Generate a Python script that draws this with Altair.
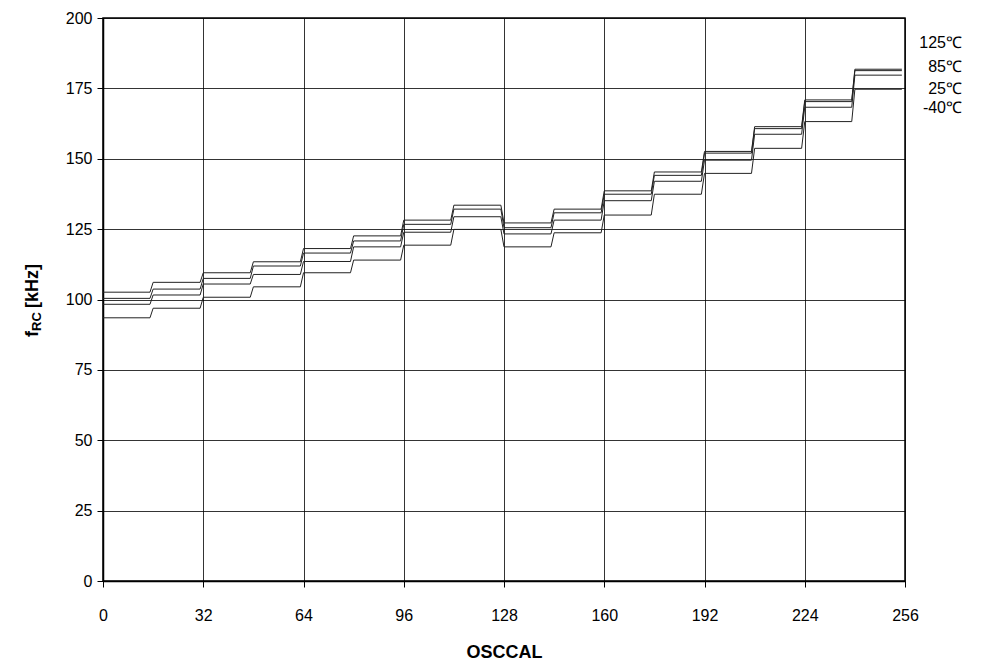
import altair as alt
import pandas as pd

# OSCCAL step starts (each step spans 16 codes)
step_start = [0, 16, 32, 48, 64, 80, 96, 112, 128, 144, 160, 176, 192, 208, 224, 240]
step_len = 15

series_names = ["125℃", "85℃", "25℃", "-40℃"]
t125 = [102.6, 106.1, 109.5, 113.4, 118.1, 122.6, 128.2, 133.5, 127.2, 132.1, 138.6, 145.3, 152.6, 161.4, 170.9, 181.8]
t85 = [100.4, 103.7, 107.5, 111.9, 116.5, 120.8, 126.7, 132.1, 125.5, 130.8, 137.4, 144.1, 152.0, 160.7, 170.3, 181.3]
t25 = [98.3, 101.6, 105.5, 108.9, 113.5, 118.7, 123.9, 129.4, 123.3, 128.2, 135.1, 142.0, 149.5, 158.7, 168.3, 179.7]
tm40 = [93.5, 96.9, 100.8, 104.5, 109.5, 114.0, 119.3, 124.9, 118.7, 123.7, 130.0, 137.4, 144.8, 153.7, 163.2, 174.7]

label_y = [191.1, 182.6, 174.8, 168.0]

x_ticks = [0, 32, 64, 96, 128, 160, 192, 224, 256]
y_ticks = [0, 25, 50, 75, 100, 125, 150, 175, 200]

y_title_parts = ["f", "RC", "[kHz]"]

rows = []
for name, vals in zip(series_names, [t125, t85, t25, tm40]):
    for s, v in zip(step_start, vals):
        rows.append({"series": name, "osccal": s, "f": v})
        rows.append({"series": name, "osccal": s + step_len, "f": v})
df = pd.DataFrame(rows)

lab = pd.DataFrame({"series": series_names, "y": label_y, "x": [256] * 4})

FONT = "Liberation Sans"

xs = alt.Scale(domain=[0, 256], nice=False, zero=False)
ys = alt.Scale(domain=[0, 200], nice=False)

lines = alt.Chart(df).mark_line(color="#222222", strokeWidth=1, clip=True).encode(
    x=alt.X("osccal:Q", scale=xs,
            axis=alt.Axis(values=x_ticks, title="OSCCAL", grid=True, gridColor="black",
                          gridWidth=0.8, gridOpacity=1, tickColor="black", tickSize=6,
                          domainColor="black", domainWidth=1.5, labelFlush=False,
                          labelFont=FONT, labelFontSize=16, labelColor="black",
                          labelPadding=20, titleFont=FONT, titleFontSize=18,
                          titleFontWeight="bold", titleColor="black", titlePadding=20)),
    y=alt.Y("f:Q", scale=ys,
            axis=alt.Axis(values=y_ticks, title=None, grid=True, gridColor="black",
                          gridWidth=0.8, gridOpacity=1, tickColor="black", tickSize=6,
                          domainColor="black", domainWidth=1.5, labelFlush=False,
                          labelFont=FONT, labelFontSize=16, labelColor="black",
                          labelPadding=5)),
    detail="series:N",
)

labels = alt.Chart(lab).mark_text(align="right", baseline="middle", dx=57,
                                   font=FONT, fontSize=16, color="black").encode(
    x=alt.X("x:Q", scale=xs),
    y=alt.Y("y:Q", scale=ys),
    text="series:N",
)

# y-axis title with subscript "RC" (rotated text pieces)
def title_piece(txt, xpix, ypix, size):
    return alt.Chart(pd.DataFrame({"t": [txt]})).mark_text(
        angle=270, align="left", baseline="alphabetic", font=FONT,
        fontSize=size, fontWeight="bold", color="black"
    ).encode(x=alt.value(xpix), y=alt.value(ypix), text="t:N")

t_f = title_piece(y_title_parts[0], -65, 319, 18)
t_rc = title_piece(y_title_parts[1], -62, 313, 13)
t_k = title_piece(y_title_parts[2], -65, 290, 18)

chart = alt.layer(lines, labels, t_f, t_rc, t_k).properties(
    width=802, height=563,
    autosize=alt.AutoSizeParams(type="none"),
    padding={"left": 95, "top": 10, "right": 80, "bottom": 79},
    background="white",
).configure_view(stroke="black", strokeWidth=1.5)

chart.save("out.html", embed_options={"renderer": "svg", "actions": False})
